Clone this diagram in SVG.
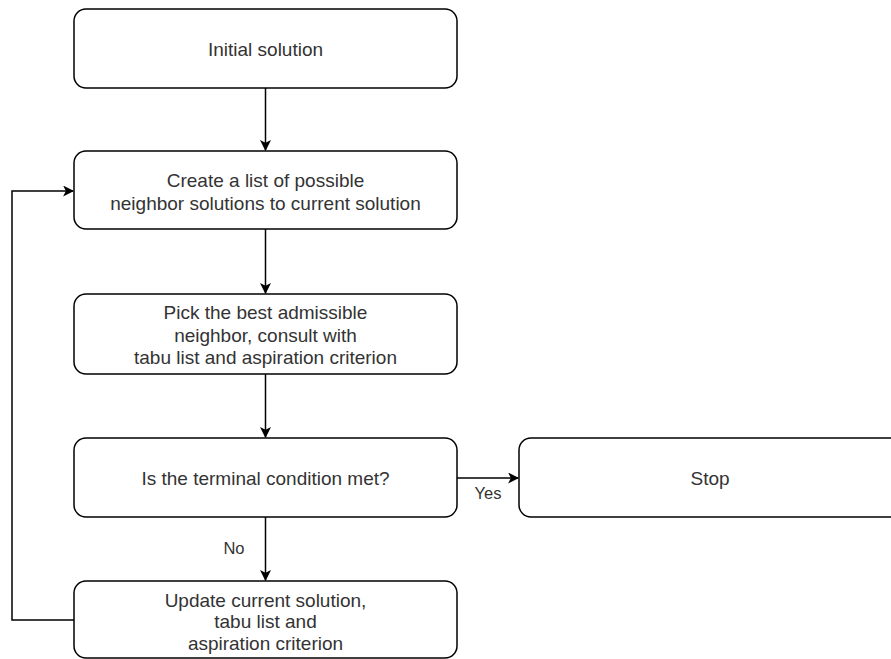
<svg xmlns="http://www.w3.org/2000/svg" width="891" height="659" viewBox="0 0 891 659">
<style>
.box{fill:#fff;stroke:#000;stroke-width:1.5}
.t{font-family:"Liberation Sans",Arial,sans-serif;font-size:19px;fill:#333;text-anchor:middle}
.lbl{font-family:"Liberation Sans",Arial,sans-serif;font-size:16.5px;fill:#333;text-anchor:middle}
.c{fill:none;stroke:#000;stroke-width:1.5}
</style>
<defs>
<marker id="ah" viewBox="0 0 10 10" refX="9" refY="5" markerWidth="11" markerHeight="11" markerUnits="userSpaceOnUse" orient="auto">
<path d="M0,0 L10,5 L0,10 L2.5,5 Z" fill="#000"/>
</marker>
</defs>
<rect width="891" height="659" fill="#fff"/>
<g id="connectors">
<path class="c" d="M265.5,88 V150" marker-end="url(#ah)"/>
<path class="c" d="M265.5,229 V293" marker-end="url(#ah)"/>
<path class="c" d="M265.5,374 V437" marker-end="url(#ah)"/>
<path class="c" d="M457,478 H518" marker-end="url(#ah)"/>
<path class="c" d="M265.5,517 V580" marker-end="url(#ah)" stroke="#333"/>
<path class="c" d="M74,620 H12 V191 H73" marker-end="url(#ah)"/>
<text class="lbl" x="488" y="499">Yes</text>
<text class="lbl" x="234" y="554">No</text>
</g>
<g id="n1">
<rect class="box" x="74" y="9" width="383" height="79" rx="12"/>
<text class="t" x="265.5" y="55.5">Initial solution</text>
</g>
<g id="n2">
<rect class="box" x="74" y="151" width="383" height="78" rx="12"/>
<text class="t" x="265.5" y="187">Create a list of possible</text>
<text class="t" x="265.5" y="210">neighbor solutions to current solution</text>
</g>
<g id="n3">
<rect class="box" x="74" y="294" width="383" height="80" rx="12"/>
<text class="t" x="265.5" y="319">Pick the best admissible</text>
<text class="t" x="265.5" y="342">neighbor, consult with</text>
<text class="t" x="265.5" y="364">tabu list and aspiration criterion</text>
</g>
<g id="n4">
<rect class="box" x="74" y="438" width="383" height="79" rx="12"/>
<text class="t" x="265.5" y="485">Is the terminal condition met?</text>
</g>
<g id="n5">
<rect class="box" x="74" y="581" width="383" height="77" rx="12"/>
<text class="t" x="265.5" y="607">Update current solution,</text>
<text class="t" x="265.5" y="628">tabu list and</text>
<text class="t" x="265.5" y="650">aspiration criterion</text>
</g>
<g id="stop">
<rect class="box" x="519" y="438" width="383" height="79" rx="12"/>
<text class="t" x="710" y="485">Stop</text>
</g>
</svg>
